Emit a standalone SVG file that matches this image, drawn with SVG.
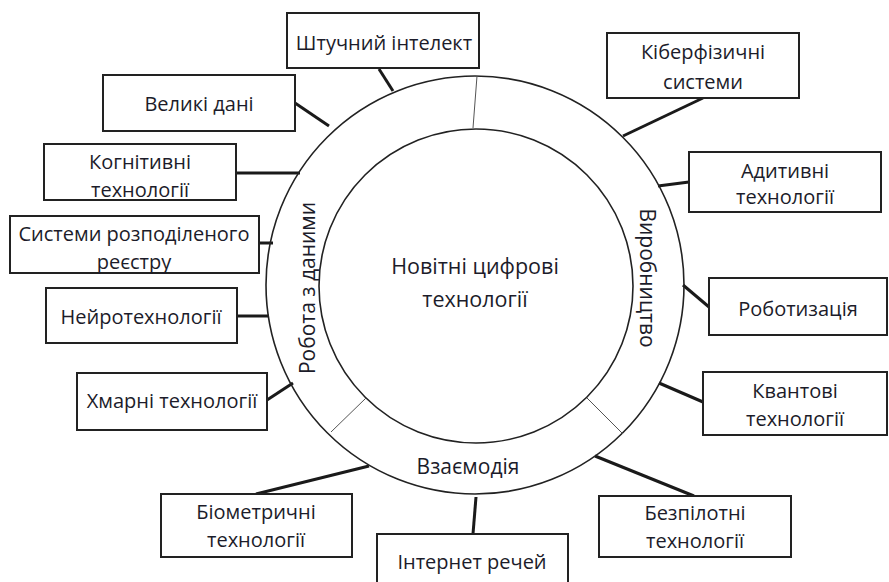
<svg xmlns="http://www.w3.org/2000/svg" width="889" height="582" viewBox="0 0 889 582">
<style>
.box{fill:#fff;stroke:#222;stroke-width:2}
.t{font-family:"Open Sans","Noto Sans",sans-serif;font-size:20px;fill:#1c1c2a;text-anchor:middle}
.big{font-size:21.5px}
.ring-t{font-size:21px}
.c{stroke:#1a1a1a;stroke-width:3;fill:none}
.ring{fill:none;stroke:#222;stroke-width:1.6}
.div{stroke:#555;stroke-width:1}
</style>
<rect width="889" height="582" fill="#fff"/>
<g id="connectors">
<line class="c" x1="379" y1="69" x2="393" y2="91"/>
<line class="c" x1="295" y1="103" x2="329" y2="126"/>
<line class="c" x1="236" y1="173" x2="300" y2="173"/>
<line class="c" x1="259" y1="243" x2="273" y2="243"/>
<line class="c" x1="237" y1="316" x2="269" y2="316"/>
<line class="c" x1="267" y1="400" x2="293" y2="383"/>
<line class="c" x1="703" y1="98" x2="623" y2="136"/>
<line class="c" x1="689" y1="182" x2="658" y2="186"/>
<line class="c" x1="709" y1="307" x2="683" y2="285"/>
<line class="c" x1="703" y1="402" x2="659" y2="383"/>
<line class="c" x1="694" y1="496" x2="595" y2="456"/>
<line class="c" x1="256" y1="494" x2="369" y2="466"/>
<line class="c" x1="473" y1="534" x2="476" y2="497"/>
</g>
<g id="hub">
<circle class="ring" cx="475" cy="285" r="209"/>
<circle class="ring" cx="476" cy="286" r="157"/>
<line class="div" x1="473" y1="128" x2="477" y2="76"/>
<line class="div" x1="366" y1="398" x2="331" y2="432"/>
<line class="div" x1="587" y1="398" x2="623" y2="434"/>
<text class="t big" x="475" y="274">Новітні цифрові</text>
<text class="t big" x="475" y="307">технології</text>
<text class="t ring-t" transform="translate(315,288) rotate(-90)">Робота з даними</text>
<text class="t ring-t" transform="translate(640,278) rotate(90)">Виробництво</text>
<text class="t ring-t" x="468" y="474">Взаємодія</text>
</g>
<g id="n1"><rect class="box" x="287" y="13" width="192" height="55"/><text class="t" x="384" y="50">Штучний інтелект</text></g>
<g id="n2"><rect class="box" x="103" y="75" width="192" height="56"/><text class="t" x="199" y="111">Великі дані</text></g>
<g id="n3"><rect class="box" x="44" y="144" width="192" height="56"/><text class="t" x="140" y="169">Когнітивні</text><text class="t" x="140" y="197">технології</text></g>
<g id="n4"><rect class="box" x="10" y="216" width="249" height="57"/><text class="t" x="134" y="241">Системи розподіленого</text><text class="t" x="134" y="269">реєстру</text></g>
<g id="n5"><rect class="box" x="46" y="288" width="191" height="55"/><text class="t" x="141" y="324">Нейротехнології</text></g>
<g id="n6"><rect class="box" x="77" y="373" width="190" height="57"/><text class="t" x="172" y="408">Хмарні технології</text></g>
<g id="n7"><rect class="box" x="607" y="33" width="192" height="65"/><text class="t" x="703" y="59">Кіберфізичні</text><text class="t" x="703" y="89">системи</text></g>
<g id="n8"><rect class="box" x="689" y="152" width="192" height="60"/><text class="t" x="785" y="178">Адитивні</text><text class="t" x="785" y="204">технології</text></g>
<g id="n9"><rect class="box" x="709" y="278" width="178" height="57"/><text class="t" x="798" y="316">Роботизація</text></g>
<g id="n10"><rect class="box" x="703" y="372" width="184" height="63"/><text class="t" x="795" y="398">Квантові</text><text class="t" x="795" y="426">технології</text></g>
<g id="n11"><rect class="box" x="599" y="496" width="192" height="61"/><text class="t" x="695" y="520">Безпілотні</text><text class="t" x="695" y="548">технології</text></g>
<g id="n12"><rect class="box" x="161" y="494" width="191" height="63"/><text class="t" x="256" y="519">Біометричні</text><text class="t" x="256" y="547">технології</text></g>
<g id="n13"><rect class="box" x="377" y="534" width="191" height="60"/><text class="t" x="472" y="569">Інтернет речей</text></g>
</svg>
